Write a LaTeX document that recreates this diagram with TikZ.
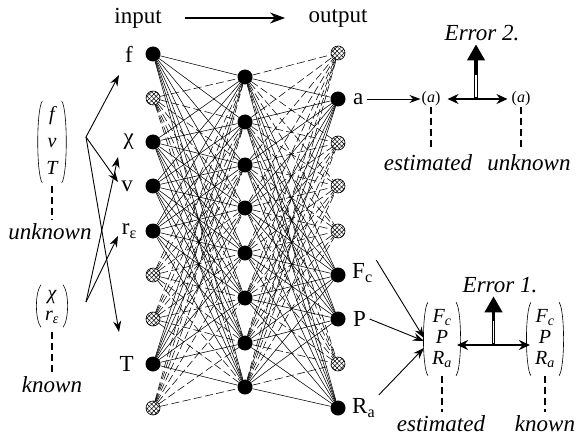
\documentclass[tikz,border=0pt]{standalone}
\usepackage{fontspec}
\setmainfont{Liberation Serif}
\usetikzlibrary{arrows.meta,positioning,patterns.meta,calc}
\tikzset{unit/.style={circle, fill=black, inner sep=0pt, minimum size=15pt},
  hatch/.style={circle, draw, line width=0.6pt, inner sep=0pt, minimum size=14pt, preaction={fill=white},
    pattern={Lines[angle=45, distance=3.2pt, line width=0.5pt]}, postaction={pattern={Lines[angle=-45, distance=3.2pt, line width=0.5pt]}}},
  link/.style={line width=0.55pt},
  dlink/.style={link, dash pattern=on 8pt off 3.5pt},
  vec/.style={font=\fontsize{20}{27}\selectfont\itshape, inner xsep=4pt, inner ysep=0pt},
  vecs/.style={font=\fontsize{20}{21}\selectfont\itshape, inner xsep=4pt, inner ysep=0pt},
  paren/.style={line width=0.6pt},
  est/.style={font=\fontsize{16}{18}\selectfont, inner sep=1pt},
  note/.style={font=\fontsize{23}{26}\selectfont\itshape},
  guide/.style={line width=1.3pt, dash pattern=on 7pt off 4pt},
  feed/.style={line width=0.9pt, -{Stealth[length=11pt, width=8pt]}},
  flow/.style={line width=1.2pt, -{Stealth[length=15pt, width=11pt]}},
  cmp/.style={line width=1.3pt, {Stealth[length=11pt, width=10pt]}-{Stealth[length=11pt, width=10pt]}},
  errup/.style={line width=3.8pt, -{Triangle[length=16pt, width=17pt]}},
  errcore/.style={white, line width=1.4pt}}
\begin{document}
\begin{tikzpicture}[x=1pt, y=-1pt, font=\fontsize{23}{26}\selectfont]
\useasboundingbox (0,0) rectangle (577,438);
\node (input) at (138,18) {input};
\node (output) at (338,18) {output};
\draw[flow, shorten <=20pt, shorten >=20pt] (input) -- (output);

\foreach \y/\s [count=\i] in {54/unit, 98/hatch, 142/unit, 186/unit, 231/unit, 275/hatch, 319/hatch, 364/unit, 408/hatch}
  \node[\s] (i\i) at (153,\y) {};
\foreach \y [count=\j] in {77, 122, 165, 208, 253, 298, 343, 387}
  \node[unit] (h\j) at (245,\y) {};
\foreach \y/\s [count=\k] in {53/hatch, 99/unit, 143/hatch, 186/hatch, 231/hatch, 275/unit, 319/unit, 364/hatch, 408/unit}
  \node[\s] (o\k) at (338,\y) {};

\foreach \i in {1,3,4,5,8} \foreach \j in {1,...,8} \draw[link] (i\i) -- (h\j);
\foreach \i in {2,6,7,9} \foreach \j in {1,...,8} \draw[dlink] (i\i) -- (h\j);
\foreach \k in {2,6,7,9} \foreach \j in {1,...,8} \draw[link] (h\j) -- (o\k);
\foreach \k in {1,3,4,5,8} \foreach \j in {1,...,8} \draw[dlink] (h\j) -- (o\k);

\node[left=9pt of i1] (lf) {f};
\node[left=8pt of i3] (lchi) {χ};
\node[left=9pt of i4] (lv) {v};
\node[left=5pt of i5] (lr) {r\textsubscript{ε}};
\node[left=8pt of i8] (lT) {T};
\node[right=4pt of o2] (la) {a};
\node[right=3pt of o6, yshift=2pt] (lFc) {F\textsubscript{c}};
\node[right=4pt of o7] (lP) {P};
\node[right=3pt of o9] (lRa) {R\textsubscript{a}};

\node[vec] (uvec) at (52,142) {\begin{tabular}{@{}c@{}}f\\ v\\ T\end{tabular}};
\node[note] (unk) at (50,232) {unknown};
\draw[guide] ([yshift=-3pt]uvec.south) -- (uvec.south |- unk.north);
\node[vecs] (kvec) at (52,306) {\begin{tabular}{@{}c@{}}χ\\ r\textsubscript{ε}\end{tabular}};
\node[note] (kn) at (52,385) {known};
\draw[guide] ([yshift=-5pt]kvec.south) -- (kvec.south |- kn.north);

\coordinate (us) at (86,137);
\coordinate (ks) at (86,302);
\coordinate (ef) at (119,75);
\coordinate (ev) at (118,182);
\coordinate (eT) at (119,332);
\coordinate (echi) at (118,157);
\coordinate (er) at (118,236);
\draw[feed] (us) -- (ef);
\draw[feed] (us) -- (ev);
\draw[feed] (us) -- (eT);
\draw[feed] (ks) -- (echi);
\draw[feed] (ks) -- (er);

\node[est] (ea) at (431,99) {(\textit{a})};
\node[est] (ua) at (521,99) {(\textit{a})};
\draw[feed] (la) -- (ea);
\node[note] (err2) at (482,33) {Error 2.};
\draw[cmp, shorten <=6pt, shorten >=3pt] (ea) -- (ua);
\coordinate (m2) at ($(ea)!0.5!(ua)$);
\draw[errup] (m2) -- (m2 |- err2.south);
\draw[errcore] ($(m2)+(0,-2)$) -- ($(m2)+(0,-24)$);
\node[note] (est2) at (428,163) {estimated};
\node[note] (unk2) at (529,163) {unknown};
\draw[guide] (ea.south) -- (ea.south |- est2.north);
\draw[guide] (ua.south) -- (ua.south |- unk2.north);

\node[vecs, inner ysep=5pt] (evec) at (442,339) {\begin{tabular}{@{}c@{}}F\textsubscript{c}\\ P\\ R\textsubscript{a}\end{tabular}};
\node[vecs, inner ysep=5pt] (kvec2) at (545,339) {\begin{tabular}{@{}c@{}}F\textsubscript{c}\\ P\\ R\textsubscript{a}\end{tabular}};
\node[note] (err1) at (500,285) {Error 1.};
\draw[cmp, shorten <=1pt, shorten >=1pt] ([yshift=-6pt]evec.east) -- ([yshift=-6pt]kvec2.west);
\coordinate (m1) at ($([yshift=-6pt]evec.east)!0.5!([yshift=-6pt]kvec2.west)$);
\draw[errup] (m1) -- (m1 |- err1.south);
\draw[errcore] ($(m1)+(0,-2)$) -- ($(m1)+(0,-24)$);
\draw[feed] (lFc.north east) -- ($(evec.west)+(-4,-1)$);
\draw[feed] (lP.east) -- ($(evec.west)+(-4,2)$);
\draw[feed] (lRa.north east) -- ($(evec.west)+(-4,9)$);
\node[note] (est1) at (441,424) {estimated};
\node[note] (kn1) at (545,424) {known};
\draw[guide] (evec.south) -- (evec.south |- est1.north);
\draw[guide] (kvec2.south) -- (kvec2.south |- kn1.north);

\foreach \v in {uvec, kvec, evec, kvec2} {
  \draw[paren] (\v.north west) .. controls +(-6,8) and +(-6,-8) .. (\v.south west);
  \draw[paren] (\v.north east) .. controls +(6,8) and +(6,-8) .. (\v.south east);
}
\end{tikzpicture}
\end{document}
